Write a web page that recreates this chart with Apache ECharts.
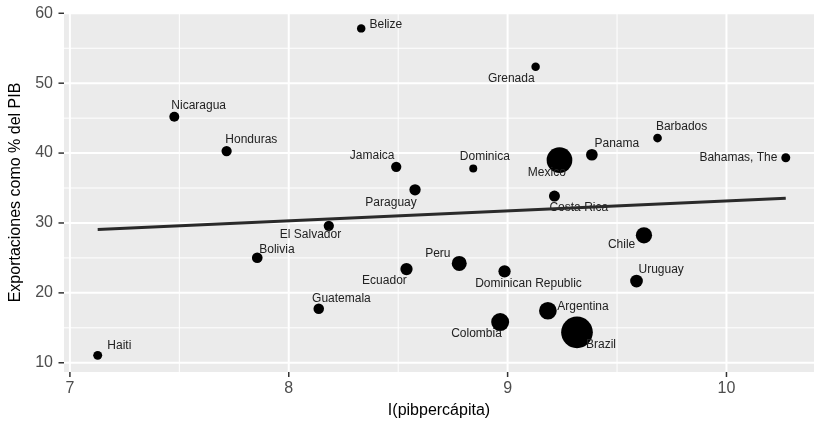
<!DOCTYPE html>
<html><head><meta charset="utf-8">
<script src="https://cdn.jsdelivr.net/npm/echarts@6/dist/echarts.min.js"></script>
<style>html,body{margin:0;padding:0;background:#fff}#c{width:814px;height:424px}</style>
</head><body><div id="c"></div>
<script>
// ---- data ----
const paises = ['Haiti','Nicaragua','Honduras','Bolivia','Belize','Grenada','Jamaica','Dominica','Paraguay','Mexico','Panama','Barbados','Bahamas, The','Costa Rica','El Salvador','Ecuador','Peru','Dominican Republic','Guatemala','Colombia','Argentina','Brazil','Chile','Uruguay'];
const logPibpc = [7.127,7.477,7.716,7.856,8.331,9.128,8.491,8.843,8.577,9.237,9.385,9.685,10.271,9.214,8.183,8.538,8.779,8.986,8.137,8.966,9.184,9.317,9.623,9.589];
const exportaciones = [11.06,45.19,40.29,25.02,57.84,52.35,38.04,37.81,34.75,39.0,39.76,42.15,39.33,33.85,29.6,23.4,24.22,23.08,17.73,15.82,17.44,14.35,28.23,21.69];
const pib = [9,25,32,42,4,4,32,1,60,1379,73,6,9,51,32,96,234,96,38,459,433,2439,322,113];
const ajusteX = [7.127, 10.271];
const ajusteY = [29.08, 33.52];
const xTickLabels = ['7','8','9','10'];
const xTicks = [7,8,9,10];
const yTickLabels = ['10','20','30','40','50','60'];
const yTicks = [10,20,30,40,50,60];

// ---- styles ----
const X_MIN = 6.973, X_MAX = 10.40, Y_MIN = 8.68, Y_MAX = 60.04;
const FONT = '"Liberation Sans", Arial, sans-serif';
const labelPlacement = [ // [align, dx, dy]
 ['left',9.6,-9.3],['left',-3,-11.3],['left',-1.3,-11.7],['left',2,-8.3],['left',8.3,-4],
 ['right',-1,12.3],['right',-1.7,-11.3],['left',-13.4,-11.6],['right',1.7,12.6],['right',6.4,12.7],
 ['left',2.6,-11],['left',-1.6,-11],['right',-8.3,0],['left',-5,11.6],['center',-18.3,9.3],
 ['right',0.3,11.3],['right',-8.7,-10],['left',-29.4,12.3],['left',-6.7,-10],['right',1.7,12],
 ['left',9.4,-3.7],['left',9,12],['right',-8.7,9.4],['left',2,-11.4]
];

const gridData = [];
xTicks.forEach((v,i)=>gridData.push([v,0,i]));
xTicks.forEach((v,i)=>{ if(i<xTicks.length-1) gridData.push([(v+xTicks[i+1])/2,1,i]); });
yTicks.forEach((v,i)=>gridData.push([v,2,i]));
yTicks.forEach((v,i)=>{ if(i<yTicks.length-1) gridData.push([(v+yTicks[i+1])/2,3,i]); });

const scatterData = paises.map((n,i)=>({
  name:n,
  value:[logPibpc[i], exportaciones[i], pib[i]],
  label:{align:labelPlacement[i][0], offset:[labelPlacement[i][1], labelPlacement[i][2]]}
}));

const chart = echarts.init(document.getElementById('c'), null, {renderer:'canvas'});
chart.setOption({
  animation:false,
  grid:{left:64, right:0, top:13, bottom:52, show:true, backgroundColor:'#EBEBEB', borderWidth:0},
  xAxis:{type:'value', min:X_MIN, max:X_MAX,
    axisLine:{show:false}, axisTick:{show:false}, axisLabel:{show:false}, splitLine:{show:false},
    name:'I(pibpercápita)', nameLocation:'middle', nameGap:31,
    nameTextStyle:{color:'#000', fontSize:16, fontFamily:FONT}},
  yAxis:{type:'value', min:Y_MIN, max:Y_MAX,
    axisLine:{show:false}, axisTick:{show:false}, axisLabel:{show:false}, splitLine:{show:false},
    name:'Exportaciones como % del PIB', nameLocation:'middle', nameGap:40, nameRotate:90,
    nameTextStyle:{color:'#000', fontSize:16, fontFamily:FONT}},
  series:[
    {type:'custom', z:1, silent:true, data:gridData, encode:{x:0,y:1},
     renderItem:function(params, api){
       const v = api.value(0), t = api.value(1), i = api.value(2);
       const cs = params.coordSys;
       const L = cs.x, R = cs.x+cs.width, T = cs.y, B = cs.y+cs.height;
       const children = [];
       if (t===0 || t===1){
         const px = api.coord([v, Y_MIN])[0];
         children.push({type:'line', shape:{x1:px,y1:T,x2:px,y2:B}, style:{stroke:'#fff', lineWidth:t===0?2:1}});
         if (t===0){
           children.push({type:'line', shape:{x1:px,y1:B,x2:px,y2:B+5}, style:{stroke:'#333', lineWidth:1.5}});
           children.push({type:'text', style:{text:xTickLabels[i], x:px, y:B+16.6, align:'center', verticalAlign:'middle', fill:'#4D4D4D', fontSize:16, fontFamily:FONT}});
         }
       } else {
         const py = api.coord([X_MIN, v])[1];
         children.push({type:'line', shape:{x1:L,y1:py,x2:R,y2:py}, style:{stroke:'#fff', lineWidth:t===2?2:1}});
         if (t===2){
           children.push({type:'line', shape:{x1:L-5.5,y1:py,x2:L,y2:py}, style:{stroke:'#333', lineWidth:1.5}});
           children.push({type:'text', style:{text:yTickLabels[i], x:L-11, y:py, align:'right', verticalAlign:'middle', fill:'#4D4D4D', fontSize:16, fontFamily:FONT}});
         }
       }
       return {type:'group', children:children};
     }},
    {type:'scatter', z:2, silent:true, data:scatterData,
     symbolSize:function(val){ return 7.5 + 0.49*Math.sqrt(val[2]); },
     itemStyle:{color:'#000', opacity:1},
     label:{show:true, position:'inside', formatter:'{b}', color:'#222', fontSize:12, fontFamily:FONT, verticalAlign:'middle'},
     emphasis:{disabled:true}},
    {type:'line', z:3, silent:true, data:ajusteX.map((x,i)=>[x, ajusteY[i]]),
     symbol:'none', lineStyle:{color:'#2a2a2a', width:3}, emphasis:{disabled:true}}
  ]
});
</script></body></html>
